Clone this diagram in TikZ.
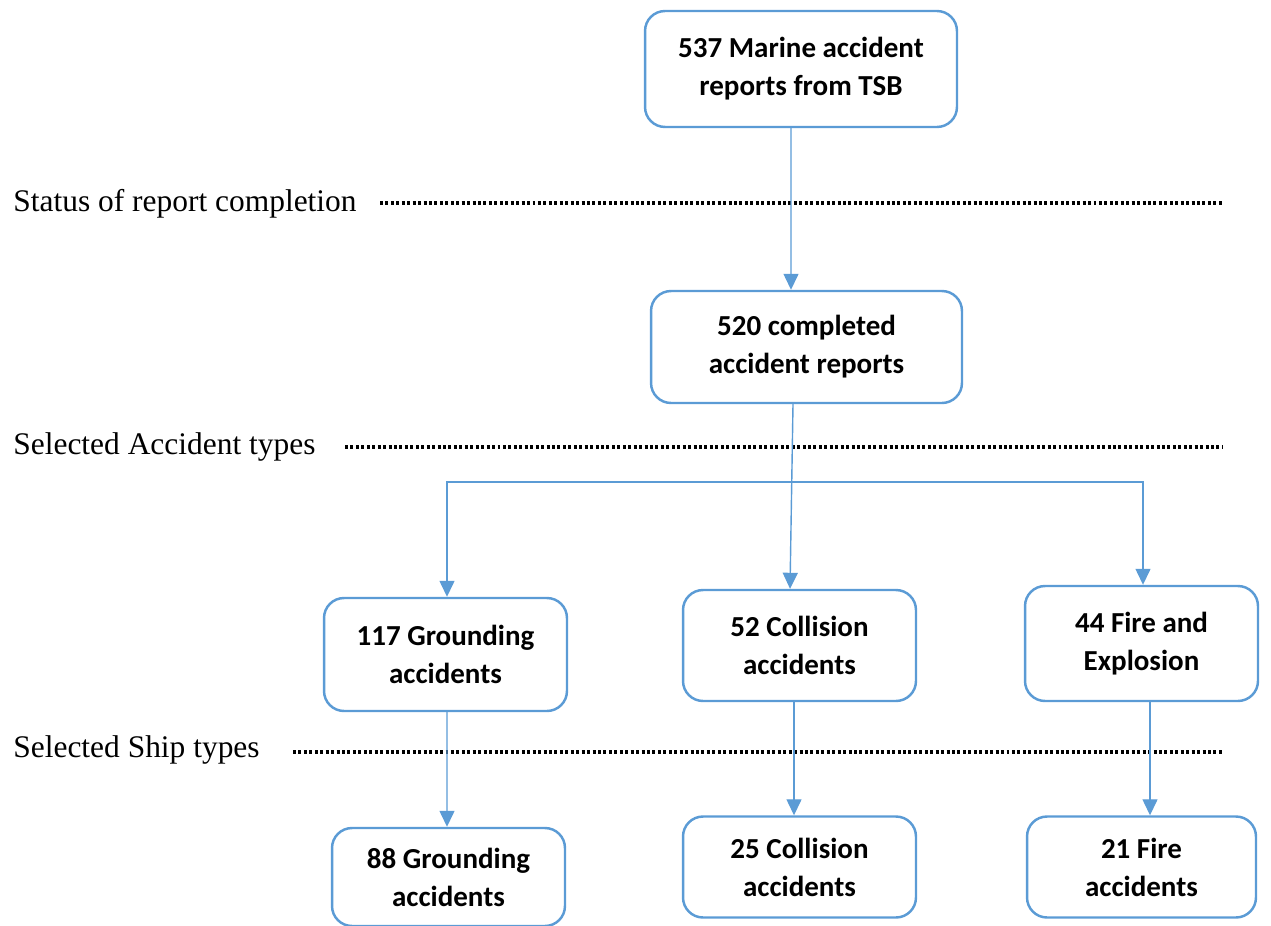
\documentclass[tikz,border=0pt]{standalone}
\usepackage{fontspec}
\setmainfont{Liberation Serif}
\newfontfamily\boxfont{Carlito}
\usetikzlibrary{arrows.meta}
\definecolor{flowblue}{HTML}{5B9BD5}

\begin{document}
\begin{tikzpicture}[x=0.02cm, y=-0.02cm,
    box/.style={draw=flowblue, line width=1.4pt, rounded corners=0.4cm, align=center,
                font=\boxfont\bfseries\fontsize{16.5}{21.6}\selectfont, inner sep=0pt},
    link/.style={draw=flowblue, line width=0.8pt, -{Triangle[length=0.32cm, width=0.3cm]}},
    rule/.style={line width=2pt, dash pattern=on 1.7pt off 1.4pt},
    stage/.style={anchor=base west, inner sep=0pt, font=\fontsize{17.9}{21}\selectfont}]
    \useasboundingbox (0,0) rectangle (1271,926);

    % Kästen
    \node[box, minimum width=6.24cm, minimum height=2.32cm] (reports) at (801,69) {537 Marine accident\\reports from TSB};
    \node[box, minimum width=6.22cm, minimum height=2.24cm] (completed) at (806.5,347) {520 completed\\accident reports};
    \node[box, minimum width=4.86cm, minimum height=2.26cm] (grounding) at (445.5,654.5) {117 Grounding\\accidents};
    \node[box, minimum width=4.66cm, minimum height=2.22cm] (collision) at (799.5,645.5) {52 Collision\\accidents};
    \node[box, minimum width=4.66cm, minimum height=2.30cm] (fire) at (1141.5,643.5) {44 Fire and\\Explosion};
    \node[box, minimum width=4.66cm, minimum height=1.96cm] (groundship) at (448.5,877) {88 Grounding\\accidents};
    \node[box, minimum width=4.66cm, minimum height=2.02cm] (collship) at (799.5,867) {25 Collision\\accidents};
    \node[box, minimum width=4.58cm, minimum height=2.02cm] (fireship) at (1141.5,867) {21 Fire\\accidents};

    % Stufen mit gepunkteten Linien
    \node[stage] (status) at (13,211) {Status of report completion};
    \node[stage] (acctypes) at (13,454) {Selected Accident types};
    \node[stage] (shiptypes) at (13,757) {Selected Ship types};
    \coordinate (s1) at (380,203);  \coordinate (e1) at (1222,203);
    \coordinate (s2) at (345,447);  \coordinate (e2) at (1222,447);
    \coordinate (s3) at (293,752);  \coordinate (e3) at (1222,752);
    \draw[rule] (s1) -- (e1);
    \draw[rule] (s2) -- (e2);
    \draw[rule] (s3) -- (e3);

    % Pfeile
    \draw[link] ([xshift=-0.2cm]reports.south) -- ([xshift=-0.31cm]completed.north);
    \draw[link] ([xshift=-0.27cm]completed.south) -- ([xshift=-0.19cm]collision.north);
    \coordinate (fork) at (792,482);
    \draw[link] (fork) -| ([xshift=0.03cm]grounding.north);
    \draw[link] (fork) -| ([xshift=0.03cm]fire.north);
    \draw[link] ([xshift=0.03cm]grounding.south) -- ([xshift=-0.03cm]groundship.north);
    \draw[link] ([xshift=-0.11cm]collision.south) -- ([xshift=-0.11cm]collship.north);
    \draw[link] ([xshift=0.17cm]fire.south) -- ([xshift=0.17cm]fireship.north);
\end{tikzpicture}
\end{document}
